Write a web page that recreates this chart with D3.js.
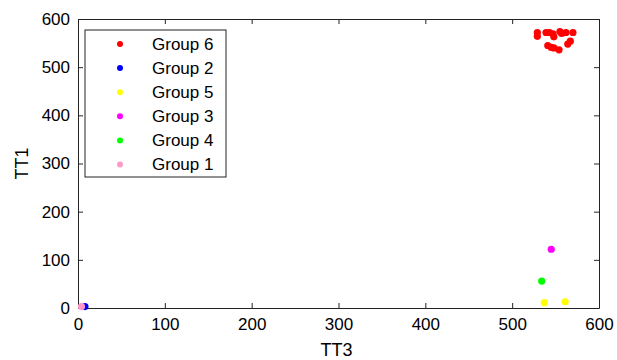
<!DOCTYPE html>
<html>
<head>
<meta charset="utf-8">
<script src="https://d3js.org/d3.v7.min.js"></script>
<style>
  body { margin: 0; background: #fff; }
  text { font-family: "Liberation Sans", Arial, sans-serif; }
</style>
</head>
<body>
<div id="graph"></div>
<script>

// data (TT3, TT1)
var groupNames = ["Group 6", "Group 2", "Group 5", "Group 3", "Group 4", "Group 1"];
var groupColors = ["#ff0000", "#0000ff", "#ffff00", "#ff00ff", "#00ff00", "#ff99cc"];

var group6 = [[529, 572], [529, 564], [539, 572], [543, 572], [547, 569], [548, 563],
              [555, 574], [557, 570], [562, 572], [570, 572],
              [541, 545], [545, 541], [548, 540], [554, 536], [564, 548], [567, 554]];
var group2 = [[8, 3]];
var group5 = [[537, 11], [561, 13]];
var group3 = [[545, 122]];
var group4 = [[534, 56]];
var group1 = [[4, 3]];

var groups = [group6, group2, group5, group3, group4, group1];

var xTicks = [0, 100, 200, 300, 400, 500, 600];
var yTicks = [0, 100, 200, 300, 400, 500, 600];

var W = 617, H = 360;
var margin = {top: 19, right: 18, bottom: 52, left: 78};
var width = W - margin.left - margin.right,
    height = H - margin.top - margin.bottom;

var svg = d3.select("#graph").append("svg")
    .attr("width", W).attr("height", H);

var g = svg.append("g")
    .attr("transform", "translate(" + margin.left + "," + margin.top + ")");

var x = d3.scaleLinear().domain([0, 600]).range([0, width]);
var y = d3.scaleLinear().domain([0, 600]).range([height, 0]);

// axes with inward ticks, box all round
function styleAxis(sel) {
  sel.select(".domain").attr("stroke", "#222");
  sel.selectAll(".tick line").attr("stroke", "#222");
  sel.selectAll("text").attr("font-size", "17px").attr("fill", "#000");
}

g.append("g").attr("transform", "translate(0," + height + ")")
  .call(d3.axisBottom(x).tickValues(xTicks).tickSizeInner(-5).tickSizeOuter(0).tickPadding(10))
  .call(styleAxis);
g.append("g")
  .call(d3.axisLeft(y).tickValues(yTicks).tickSizeInner(-5).tickSizeOuter(0).tickPadding(8))
  .call(styleAxis);
g.append("g")
  .call(d3.axisTop(x).tickValues(xTicks).tickSizeInner(-5).tickSizeOuter(0).tickFormat(""))
  .call(styleAxis);
g.append("g").attr("transform", "translate(" + width + ",0)")
  .call(d3.axisRight(y).tickValues(yTicks).tickSizeInner(-5).tickSizeOuter(0).tickFormat(""))
  .call(styleAxis);

// points
groups.forEach(function(pts, i) {
  g.append("g").selectAll("circle")
    .data(pts)
    .enter().append("circle")
      .attr("cx", function(d) { return x(d[0]); })
      .attr("cy", function(d) { return y(d[1]); })
      .attr("r", 3.6)
      .attr("fill", groupColors[i]);
});

// axis titles
svg.append("text")
  .attr("x", margin.left + x(300) - 2)
  .attr("y", 356)
  .attr("text-anchor", "middle")
  .attr("font-size", "18px")
  .text("TT3");
svg.append("text")
  .attr("transform", "translate(28," + (margin.top + height / 2) + ") rotate(-90)")
  .attr("text-anchor", "middle")
  .attr("font-size", "18px")
  .text("TT1");

// legend
var legend = svg.append("g").attr("transform", "translate(85,30)");
legend.append("rect")
  .attr("width", 141).attr("height", 147)
  .attr("fill", "#fff").attr("stroke", "#222");
var items = legend.selectAll(".item").data(groupNames)
  .enter().append("g")
  .attr("transform", function(d, i) { return "translate(0," + (14 + i * 24.1) + ")"; });
items.append("circle")
  .attr("cx", 35).attr("r", 3)
  .attr("fill", function(d, i) { return groupColors[i]; });
items.append("text")
  .attr("x", 67).attr("dy", "0.35em")
  .attr("font-size", "17px")
  .text(function(d) { return d; });

</script>
</body>
</html>
